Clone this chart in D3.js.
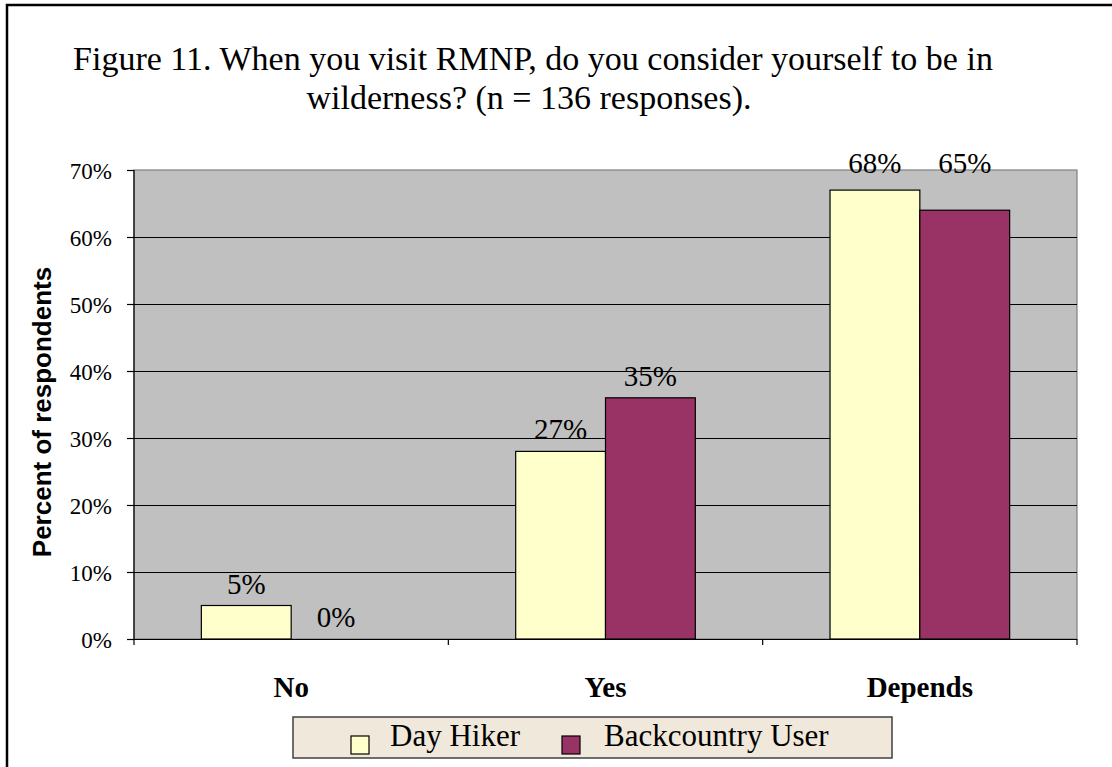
<!DOCTYPE html>
<html>
<head>
<meta charset="utf-8">
<script src="https://cdn.jsdelivr.net/npm/d3@7"></script>
<style>
  body { margin: 0; background: #fff; }
  svg text { fill: #000; }
</style>
</head>
<body>
<div id="chart"></div>
<script>
// chart values
var categories = ["No", "Yes", "Depends"];
var seriesNames = ["Day Hiker", "Backcountry User"];
var dayHiker = [5, 28, 67];
var backcountry = [0, 36, 64];
// printed data labels (as shown in the original, they differ slightly from bar heights)
var dayHikerLabels = ["5%", "27%", "68%"];
var backcountryLabels = ["0%", "35%", "65%"];
var yTicks = [0, 10, 20, 30, 40, 50, 60, 70];
var colors = ["#FFFFCC", "#993366"];

var serif = "'Liberation Serif', 'Times New Roman', serif";
var svgWidth = 1112;
var svgHeight = 767;

var plot = { left: 134, right: 1077, top: 170, bottom: 639 };

var svg = d3.select("#chart")
  .append("svg")
  .attr("width", svgWidth)
  .attr("height", svgHeight);

// outer frame (cut off on right and bottom)
svg.append("rect")
  .attr("x", 7)
  .attr("y", 5)
  .attr("width", 1300)
  .attr("height", 1000)
  .attr("fill", "#fff")
  .attr("stroke", "#000")
  .attr("stroke-width", 2.5);

// title
var title = svg.append("text")
  .attr("text-anchor", "middle")
  .style("font-family", serif)
  .style("font-size", "34px");
title.append("tspan")
  .attr("x", 533)
  .attr("y", 70)
  .text("Figure 11. When you visit RMNP, do you consider yourself to be in");
title.append("tspan")
  .attr("x", 529)
  .attr("y", 109)
  .text("wilderness? (n = 136 responses).");

var xScale = d3.scaleBand()
  .domain(categories)
  .range([plot.left, plot.right])
  .padding(0);

var xInner = d3.scaleBand()
  .domain(seriesNames)
  .range([0, xScale.bandwidth()])
  .paddingInner(0)
  .paddingOuter(0.75);

var yScale = d3.scaleLinear()
  .domain([0, 70])
  .range([plot.bottom, plot.top]);

// plot background
svg.append("rect")
  .attr("x", plot.left)
  .attr("y", plot.top)
  .attr("width", plot.right - plot.left)
  .attr("height", plot.bottom - plot.top)
  .attr("fill", "#C0C0C0")
  .attr("stroke", "#808080")
  .attr("stroke-width", 1.2);

// gridlines
svg.append("g")
  .selectAll("line")
  .data(yTicks.filter(d => d > 0 && d < 70))
  .enter()
  .append("line")
  .attr("x1", plot.left)
  .attr("x2", plot.right)
  .attr("y1", d => yScale(d) + 0.5)
  .attr("y2", d => yScale(d) + 0.5)
  .attr("stroke", "#000")
  .attr("stroke-width", 1);

// y axis
var leftAxis = d3.axisLeft(yScale)
  .tickValues(yTicks)
  .tickFormat(d => d + "%")
  .tickSizeInner(7)
  .tickSizeOuter(0)
  .tickPadding(15);

var yAxis = svg.append("g")
  .attr("transform", `translate(${plot.left}, 0)`)
  .call(leftAxis);
yAxis.select(".domain").remove();
yAxis.selectAll(".tick line").attr("stroke", "#000").attr("stroke-width", 1.2);
yAxis.selectAll(".tick text")
  .style("font-family", serif)
  .style("font-size", "23px")
  .attr("dy", "0.36em");

// bars
var series = [dayHiker, backcountry];
var labels = [dayHikerLabels, backcountryLabels];

series.forEach(function(values, s) {
  svg.append("g")
    .selectAll("rect")
    .data(values)
    .enter()
    .append("rect")
    .attr("x", (d, i) => xScale(categories[i]) + xInner(seriesNames[s]))
    .attr("y", d => yScale(d))
    .attr("width", xInner.bandwidth())
    .attr("height", d => yScale(0) - yScale(d))
    .attr("fill", colors[s])
    .attr("stroke", "#000")
    .attr("stroke-width", d => d > 0 ? 1.2 : 0);
});

// data labels
function labelY(s, i) {
  var a = dayHiker[i], b = backcountry[i];
  if (Math.abs(a - b) < 5) {
    return yScale(Math.max(a, b)) - 17;
  }
  return yScale(series[s][i]) - 12;
}

series.forEach(function(values, s) {
  svg.append("g")
    .selectAll("text")
    .data(values)
    .enter()
    .append("text")
    .attr("text-anchor", "middle")
    .style("font-family", serif)
    .style("font-size", "29px")
    .attr("x", (d, i) => xScale(categories[i]) + xInner(seriesNames[s]) + xInner.bandwidth() / 2)
    .attr("y", (d, i) => labelY(s, i))
    .text((d, i) => labels[s][i]);
});

// x axis baseline
svg.append("line")
  .attr("x1", plot.left)
  .attr("x2", plot.right)
  .attr("y1", plot.bottom + 0.5)
  .attr("y2", plot.bottom + 0.5)
  .attr("stroke", "#000")
  .attr("stroke-width", 1.2);

// left axis line, extends slightly below the baseline
svg.append("line")
  .attr("x1", plot.left)
  .attr("x2", plot.left)
  .attr("y1", plot.top)
  .attr("y2", plot.bottom + 6)
  .attr("stroke", "#000")
  .attr("stroke-width", 1.2);

// category boundary ticks
svg.append("g")
  .selectAll("line")
  .data(categories.slice(1).concat(["end"]))
  .enter()
  .append("line")
  .attr("x1", d => d === "end" ? plot.right : xScale(d))
  .attr("x2", d => d === "end" ? plot.right : xScale(d))
  .attr("y1", plot.bottom)
  .attr("y2", plot.bottom + 6)
  .attr("stroke", "#000")
  .attr("stroke-width", 1.2);

// category labels
svg.append("g")
  .selectAll("text")
  .data(categories)
  .enter()
  .append("text")
  .attr("text-anchor", "middle")
  .style("font-family", serif)
  .style("font-size", "29px")
  .style("font-weight", "bold")
  .attr("x", d => xScale(d) + xScale.bandwidth() / 2)
  .attr("y", 697)
  .text(d => d);

// y axis title
svg.append("text")
  .attr("transform", "translate(51, 412) rotate(-90)")
  .attr("text-anchor", "middle")
  .style("font-family", "Arial, 'Liberation Sans', sans-serif")
  .style("font-weight", "bold")
  .style("font-size", "26px")
  .text("Percent of respondents");

// legend
var legend = svg.append("g");
legend.append("rect")
  .attr("x", 293)
  .attr("y", 717)
  .attr("width", 599)
  .attr("height", 41)
  .attr("fill", "#F0E8DA")
  .attr("stroke", "#404040")
  .attr("stroke-width", 1.5);

var legendItems = [
  { sx: 351, tx: 390 },
  { sx: 562, tx: 604 }
];
seriesNames.forEach(function(name, s) {
  legend.append("rect")
    .attr("x", legendItems[s].sx)
    .attr("y", 736)
    .attr("width", 18)
    .attr("height", 18)
    .attr("fill", colors[s])
    .attr("stroke", "#000")
    .attr("stroke-width", 1.2);
  legend.append("text")
    .style("font-family", serif)
    .style("font-size", "31px")
    .attr("x", legendItems[s].tx)
    .attr("y", 746)
    .text(name);
});
</script>
</body>
</html>
